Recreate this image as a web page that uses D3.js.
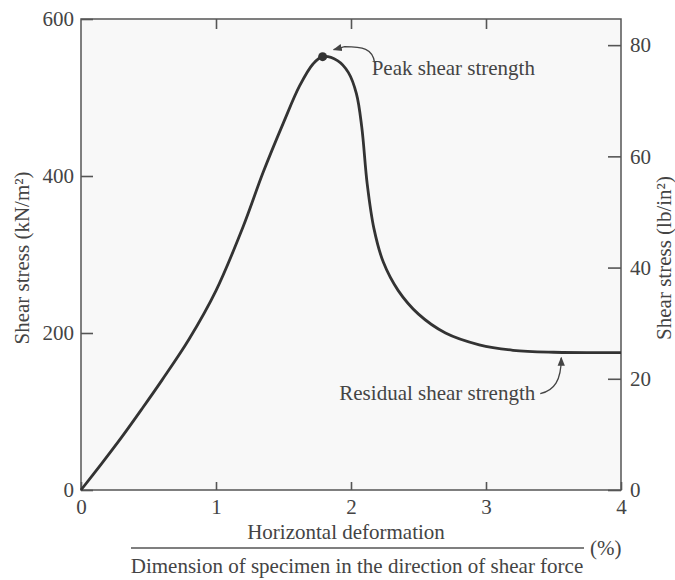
<!DOCTYPE html>
<html>
<head>
<meta charset="utf-8">
<script src="https://cdn.jsdelivr.net/npm/d3@7"></script>
<style>
  body { margin: 0; background: #fff; }
  svg text { font-family: "Liberation Serif", "DejaVu Serif", serif; fill: #444; }
</style>
</head>
<body>
<div id="chart"></div>
<script>

// values
var strain = [0, 0.15, 0.3, 0.45, 0.6, 0.8, 1.0, 1.2, 1.35, 1.5, 1.62, 1.72, 1.79, 1.9, 1.98, 2.04, 2.08, 2.12, 2.17, 2.24, 2.35, 2.5, 2.7, 2.95, 3.2, 3.5, 4.0];
var stress = [0, 33, 67, 103, 140, 192, 254, 335, 405, 468, 515, 543, 552, 547, 532, 505, 462, 390, 333, 290, 254, 224, 200, 185, 178, 175.5, 175];

var xTicks = [0, 1, 2, 3, 4];
var kpaTicks = [0, 200, 400, 600];
var psiTicks = [0, 20, 40, 60, 80];

var peakPoint = [1.79, 552];
var residualPoint = [3.55, 175];

var width = 675, height = 580;
var margin = {top: 19, right: 54, bottom: 90, left: 81};

var x = d3.scaleLinear()
  .domain([0, 4])
  .range([margin.left, width - margin.right]);

var y = d3.scaleLinear()
  .domain([0, 600])
  .range([height - margin.bottom, margin.top]);

// the lb/in2 scale on the right is drawn a bit off the exact conversion in the original
var y2 = d3.scaleLinear()
  .domain([0, 84.7])
  .range([height - margin.bottom, margin.top]);

var svg = d3.select("#chart").append("svg")
  .attr("width", width)
  .attr("height", height);

svg.append("defs").append("marker")
  .attr("id", "head")
  .attr("viewBox", "0 0 10 10")
  .attr("refX", 9)
  .attr("refY", 5)
  .attr("markerWidth", 7)
  .attr("markerHeight", 7)
  .attr("orient", "auto")
  .append("path")
  .attr("d", "M0,1 L10,5 L0,9 Z")
  .attr("fill", "#444");

// frame
svg.append("rect")
  .attr("x", x(0))
  .attr("y", y(600))
  .attr("width", x(4) - x(0))
  .attr("height", y(0) - y(600))
  .attr("fill", "#f8f8f8")
  .attr("stroke", "#555")
  .attr("stroke-width", 1.5);

var fontSize = "21px";

svg.append("g")
  .attr("transform", "translate(0," + y(0) + ")")
  .call(d3.axisBottom(x).tickValues(xTicks).tickSize(-8).tickPadding(9).tickFormat(d3.format("d")));

svg.append("g")
  .attr("transform", "translate(0," + y(600) + ")")
  .call(d3.axisTop(x).tickValues([1, 2, 3]).tickSize(-10).tickFormat(""));

svg.append("g")
  .attr("transform", "translate(" + x(0) + ",0)")
  .call(d3.axisLeft(y).tickValues(kpaTicks).tickSize(-12).tickPadding(7));

svg.append("g")
  .attr("transform", "translate(" + x(4) + ",0)")
  .call(d3.axisRight(y2).tickValues(psiTicks).tickSize(-13).tickPadding(9));

svg.selectAll(".domain").remove();
svg.selectAll(".tick line").attr("stroke", "#555").attr("stroke-width", 1.6);
svg.selectAll(".tick text").style("font-size", fontSize).attr("fill", "#444");

// curve
var line = d3.line()
  .x(function(d, i) { return x(strain[i]); })
  .y(function(d) { return y(d); })
  .curve(d3.curveCatmullRom.alpha(0.5));

svg.append("path")
  .datum(stress)
  .attr("d", line)
  .attr("fill", "none")
  .attr("stroke", "#333")
  .attr("stroke-width", 2.8);

svg.append("circle")
  .attr("cx", x(peakPoint[0]))
  .attr("cy", y(peakPoint[1]))
  .attr("r", 4.5)
  .attr("fill", "#333");

// annotations
var px = x(peakPoint[0]), py = y(peakPoint[1]);

svg.append("path")
  .attr("d", "M" + (px + 52) + "," + (py + 6) +
             " C" + (px + 50) + "," + (py - 8) + " " + (px + 40) + "," + (py - 10) + " " + (px + 22) + "," + (py - 10) +
             " L" + (px + 11) + "," + (py - 7))
  .attr("fill", "none")
  .attr("stroke", "#444")
  .attr("stroke-width", 1.3)
  .attr("marker-end", "url(#head)");

svg.append("text")
  .attr("x", px + 49)
  .attr("y", py + 18)
  .style("font-size", fontSize)
  .text("Peak shear strength");

var rx = x(residualPoint[0]), ry = y(residualPoint[1]);

svg.append("path")
  .attr("d", "M" + (rx - 20) + "," + (ry + 41) +
             " C" + (rx - 6) + "," + (ry + 38) + " " + (rx + 1) + "," + (ry + 28) + " " + (rx + 1) + "," + (ry + 5))
  .attr("fill", "none")
  .attr("stroke", "#444")
  .attr("stroke-width", 1.3)
  .attr("marker-end", "url(#head)");

svg.append("text")
  .attr("x", rx - 25)
  .attr("y", ry + 47)
  .attr("text-anchor", "end")
  .style("font-size", fontSize)
  .text("Residual shear strength");

// axis titles
svg.append("text")
  .attr("transform", "translate(29,258) rotate(-90)")
  .attr("text-anchor", "middle")
  .style("font-size", fontSize)
  .text("Shear stress (kN/m²)");

svg.append("text")
  .attr("transform", "translate(671,258) rotate(-90)")
  .attr("text-anchor", "middle")
  .style("font-size", fontSize)
  .text("Shear stress (lb/in²)");

svg.append("text")
  .attr("x", 346)
  .attr("y", 539)
  .attr("text-anchor", "middle")
  .style("font-size", fontSize)
  .text("Horizontal deformation");

svg.append("line")
  .attr("x1", 131)
  .attr("x2", 584)
  .attr("y1", 548)
  .attr("y2", 548)
  .attr("stroke", "#555")
  .attr("stroke-width", 1.4);

svg.append("text")
  .attr("x", 357)
  .attr("y", 573)
  .attr("text-anchor", "middle")
  .style("font-size", fontSize)
  .text("Dimension of specimen in the direction of shear force");

svg.append("text")
  .attr("x", 590)
  .attr("y", 555)
  .style("font-size", fontSize)
  .text("(%)");

</script>
</body>
</html>
